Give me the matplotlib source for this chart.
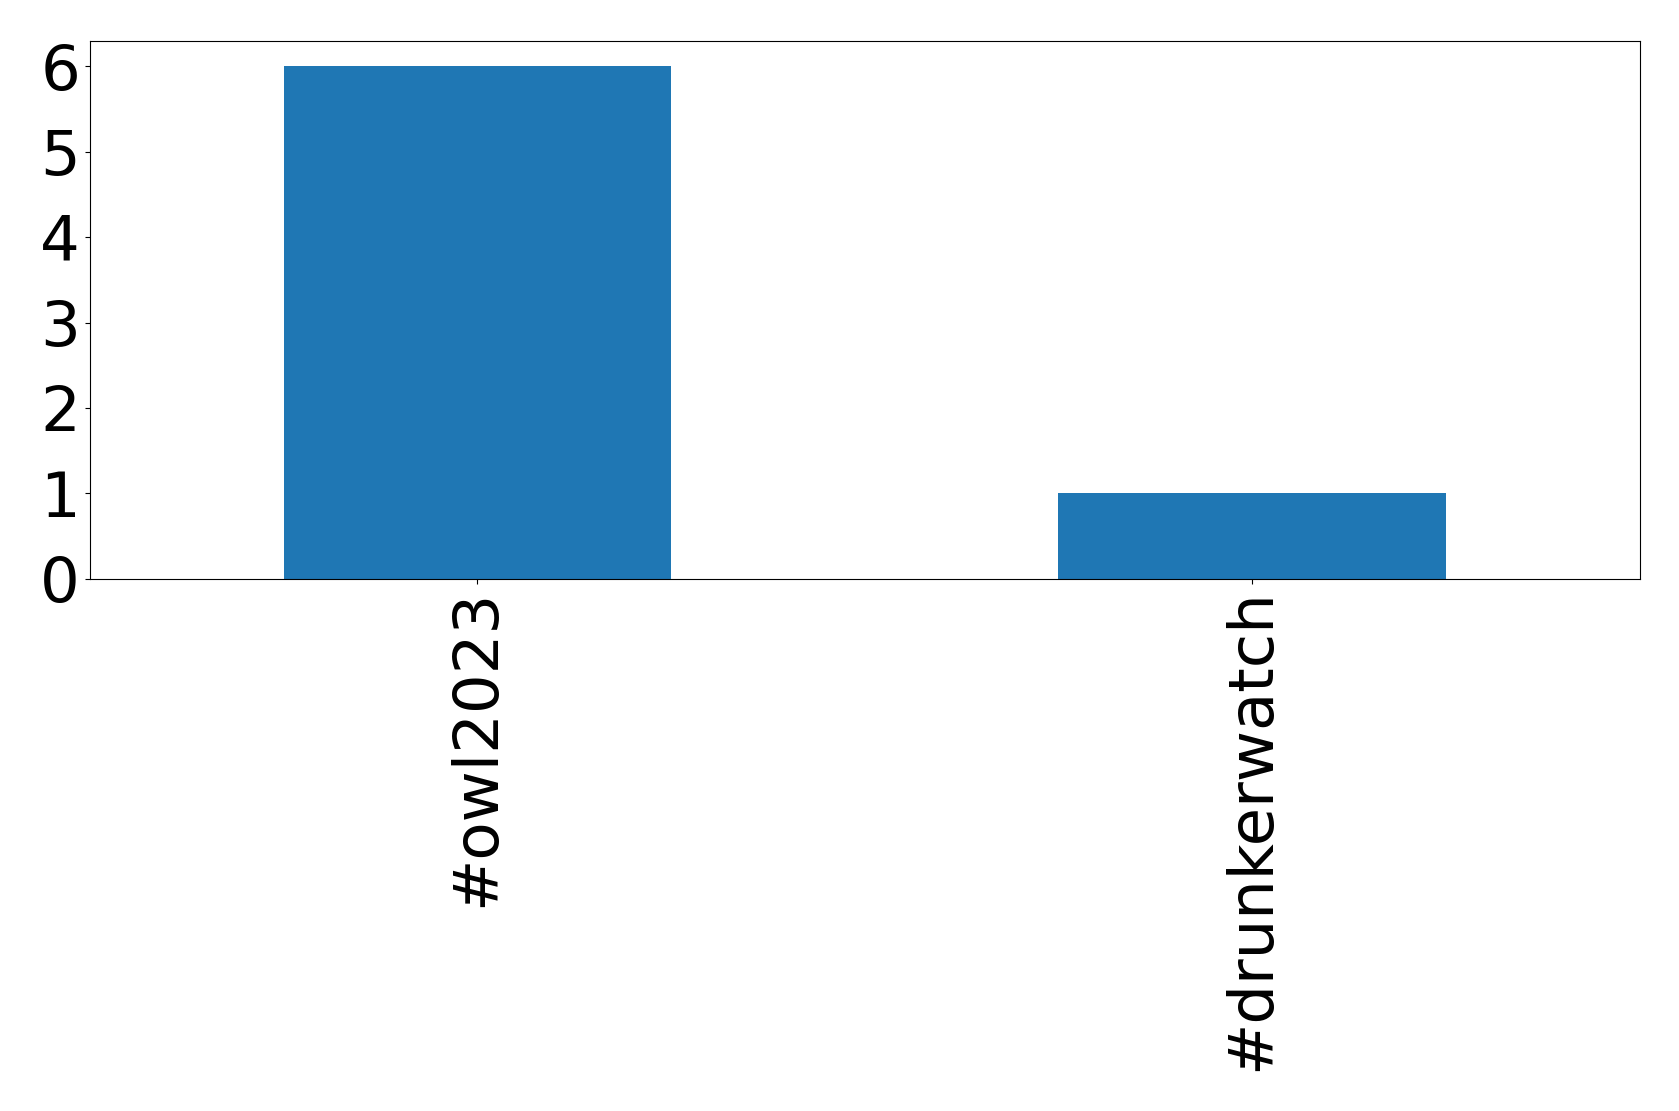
import matplotlib
matplotlib.use("Agg")
import matplotlib.pyplot as plt

hashtags = ["#owl2023", "#drunkerwatch"]
counts = [6, 1]

fig, ax = plt.subplots(figsize=(16.79, 11.11), dpi=100)
ax.bar(range(len(hashtags)), counts, width=0.5, color="#1f77b4")
ax.set_xlim(-0.5, len(hashtags) - 0.5)
ax.set_ylim(0, 6.3)
ax.set_xticks(range(len(hashtags)))
ax.set_xticklabels(hashtags, rotation=90)
ax.set_yticks(range(0, max(counts) + 1))
ax.tick_params(labelsize=45)
fig.subplots_adjust(left=0.0535, right=0.9765, top=0.9635, bottom=0.479)
fig.savefig("out.png")
